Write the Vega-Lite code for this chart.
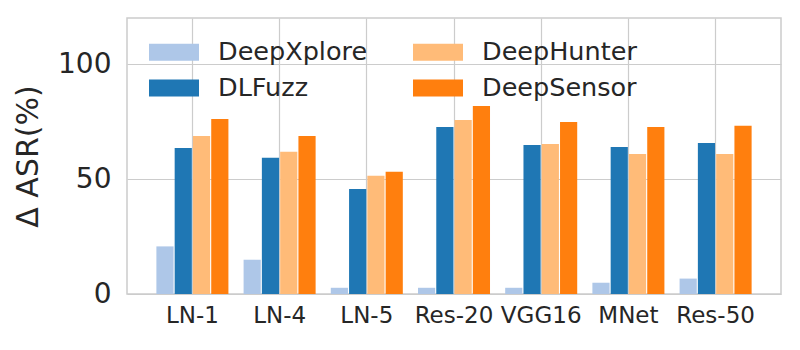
{
  "$schema": "https://vega.github.io/schema/vega-lite/v6.json",
  "width": 654,
  "height": 276,
  "autosize": {"type": "none"},
  "padding": {"left": 127, "top": 18, "right": 19, "bottom": 56},
  "background": "white",
  "config": {
    "font": "DejaVu Sans",
    "view": {"stroke": "#cccccc", "strokeWidth": 1.5},
    "axis": {"labelColor": "#262626", "titleColor": "#262626", "gridColor": "#cccccc", "gridWidth": 1.2, "domain": false, "ticks": false, "labelFont": "DejaVu Sans", "titleFont": "DejaVu Sans"},
    "legend": {"labelFont": "DejaVu Sans", "labelColor": "#262626"}
  },
  "data": {
    "values": [
      {"model": "LN-1", "method": "DeepXplore", "value": 20.7},
      {"model": "LN-1", "method": "DLFuzz", "value": 63.5},
      {"model": "LN-1", "method": "DeepHunter", "value": 68.7},
      {"model": "LN-1", "method": "DeepSensor", "value": 76.1},
      {"model": "LN-4", "method": "DeepXplore", "value": 14.9},
      {"model": "LN-4", "method": "DLFuzz", "value": 59.2},
      {"model": "LN-4", "method": "DeepHunter", "value": 61.8},
      {"model": "LN-4", "method": "DeepSensor", "value": 68.7},
      {"model": "LN-5", "method": "DeepXplore", "value": 2.7},
      {"model": "LN-5", "method": "DLFuzz", "value": 45.7},
      {"model": "LN-5", "method": "DeepHunter", "value": 51.4},
      {"model": "LN-5", "method": "DeepSensor", "value": 53.1},
      {"model": "Res-20", "method": "DeepXplore", "value": 2.7},
      {"model": "Res-20", "method": "DLFuzz", "value": 72.6},
      {"model": "Res-20", "method": "DeepHunter", "value": 75.7},
      {"model": "Res-20", "method": "DeepSensor", "value": 81.7},
      {"model": "VGG16", "method": "DeepXplore", "value": 2.7},
      {"model": "VGG16", "method": "DLFuzz", "value": 64.8},
      {"model": "VGG16", "method": "DeepHunter", "value": 65.2},
      {"model": "VGG16", "method": "DeepSensor", "value": 74.8},
      {"model": "MNet", "method": "DeepXplore", "value": 4.9},
      {"model": "MNet", "method": "DLFuzz", "value": 63.9},
      {"model": "MNet", "method": "DeepHunter", "value": 60.9},
      {"model": "MNet", "method": "DeepSensor", "value": 72.6},
      {"model": "Res-50", "method": "DeepXplore", "value": 6.7},
      {"model": "Res-50", "method": "DLFuzz", "value": 65.7},
      {"model": "Res-50", "method": "DeepHunter", "value": 60.9},
      {"model": "Res-50", "method": "DeepSensor", "value": 73.1}
    ]
  },
  "mark": {"type": "bar"},
  "encoding": {
    "x": {
      "field": "model", "type": "nominal",
      "sort": ["LN-1", "LN-4", "LN-5", "Res-20", "VGG16", "MNet", "Res-50"],
      "scale": {"paddingInner": 0.174, "paddingOuter": 0.337},
      "axis": {"title": null, "labelAngle": 0, "labelFontSize": 23, "labelPadding": 10, "grid": true}
    },
    "xOffset": {
      "field": "method", "type": "nominal",
      "sort": ["DeepXplore", "DLFuzz", "DeepHunter", "DeepSensor"],
      "scale": {"paddingInner": 0.06}
    },
    "y": {
      "field": "value", "type": "quantitative",
      "scale": {"domain": [0, 120], "nice": false},
      "axis": {"values": [0, 50, 100], "title": "Δ ASR(%)", "titleFontSize": 30, "titleFontWeight": "normal", "labelFontSize": 28, "labelPadding": 16, "titlePadding": 14}
    },
    "color": {
      "field": "method", "type": "nominal",
      "scale": {"domain": ["DeepXplore", "DLFuzz", "DeepHunter", "DeepSensor"], "range": ["#aec7e8", "#1f77b4", "#ffbb78", "#ff7f0e"]},
      "legend": {
        "title": null, "orient": "none", "legendX": 31, "legendY": 18, "columns": 2,
        "symbolType": "M-1.5625,-0.53H1.5625V0.53H-1.5625Z", "symbolSize": 1024, "symbolStrokeWidth": 0, "symbolOpacity": 1,
        "labelFontSize": 25.5, "labelOffset": 28, "columnPadding": 45, "rowPadding": 6, "padding": 0
      }
    }
  }
}
